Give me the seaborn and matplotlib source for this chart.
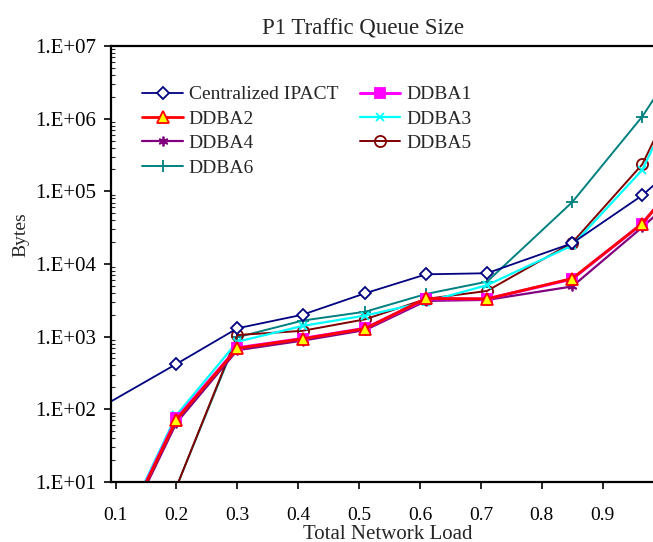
import numpy as np
import pandas as pd
import matplotlib
matplotlib.use('Agg')
import matplotlib.pyplot as plt
import seaborn as sns
from matplotlib.ticker import FuncFormatter, LogLocator, FixedLocator

# carga da rede (eixo x)
carga = [0.1, 0.2, 0.3, 0.407, 0.51, 0.61, 0.71, 0.85, 0.965, 1.0]
carga_ipact = [0.05, 0.2, 0.3, 0.407, 0.51, 0.61, 0.71, 0.85, 0.965, 1.0]

# tamanho da fila (bytes) por algoritmo
ipact = [80, 420, 1300, 2000, 3950, 7200, 7450, 19300, 88000, 160000]
ddba1 = [1.3, 75, 700, 940, 1300, 3300, 3300, 6200, 36000, 80000]
ddba2 = [1.3, 72, 690, 930, 1290, 3350, 3300, 6300, 36000, 81000]
ddba3 = [1.4, 83, 850, 1400, 1950, 3000, 5100, 18000, 197000, 800000]
ddba4 = [1.2, 65, 650, 880, 1230, 3100, 3200, 4900, 32000, 59000]
ddba5 = [1.0, 8.5, 1050, 1200, 1730, 3300, 4250, 19600, 235000, 950000]
ddba6 = [1.0, 8.5, 980, 1660, 2200, 3860, 5700, 71000, 1070000, 3000000]

series = [
    ('Centralized IPACT', carga_ipact, ipact),
    ('DDBA2', carga, ddba2),
    ('DDBA4', carga, ddba4),
    ('DDBA6', carga, ddba6),
    ('DDBA1', carga, ddba1),
    ('DDBA3', carga, ddba3),
    ('DDBA5', carga, ddba5),
]

estilos = {
    'Centralized IPACT': dict(color='#000080', marker='D', mfc='white', mec='#000080', ms=6, lw=1.3),
    'DDBA1': dict(color='#FF00FF', marker='s', mfc='#FF00FF', mec='#FF00FF', ms=7, lw=2.2),
    'DDBA2': dict(color='#FF0000', marker='^', mfc='#FFFF00', mec='#FF0000', ms=8, lw=2.0),
    'DDBA3': dict(color='#00FFFF', marker='x', mfc='#00FFFF', mec='#00FFFF', ms=6, lw=1.6),
    'DDBA4': dict(color='#800080', marker=(6, 2, 0), mfc='#800080', mec='#800080', ms=7, lw=1.6),
    'DDBA5': dict(color='#800000', marker='o', mfc='none', mec='#800000', ms=8, lw=1.4),
    'DDBA6': dict(color='#008080', marker='+', mfc='#008080', mec='#008080', ms=8, lw=1.4),
}

sns.set_style('white')
plt.rcParams['font.family'] = ['Liberation Serif', 'DejaVu Serif']

fig = plt.figure(figsize=(6.53, 5.42), dpi=100)
ax = fig.add_axes([0.170, 0.111, 0.835, 0.804])

ordem_desenho = ['DDBA6', 'DDBA5', 'DDBA3', 'Centralized IPACT', 'DDBA4', 'DDBA1', 'DDBA2']
dados = {nome: (x, y) for nome, x, y in series}
for nome in ordem_desenho:
    x, y = dados[nome]
    df = pd.DataFrame({'carga': x, 'bytes': y})
    st = estilos[nome]
    sns.lineplot(data=df, x='carga', y='bytes', ax=ax, color=st['color'],
                 linewidth=st['lw'], marker=st['marker'], markersize=st['ms'],
                 markerfacecolor=st['mfc'], markeredgecolor=st['mec'],
                 markeredgewidth=1.3, label=nome, legend=False)

ax.set_yscale('log')
ax.set_ylim(10, 1e7)
ax.set_xlim(0.0925, 0.988)
ax.set_xticks([0.1, 0.2, 0.3, 0.4, 0.5, 0.6, 0.7, 0.8, 0.9])
ax.set_xticklabels(['0.1', '0.2', '0.3', '0.4', '0.5', '0.6', '0.7', '0.8', '0.9'])
ax.yaxis.set_major_locator(FixedLocator([1e1, 1e2, 1e3, 1e4, 1e5, 1e6, 1e7]))
ax.yaxis.set_minor_locator(LogLocator(base=10, subs=np.arange(2, 10), numticks=10))
ax.yaxis.set_major_formatter(FuncFormatter(lambda v, p: '1.E+%02d' % int(round(np.log10(v)))))

ax.tick_params(axis='both', which='major', direction='out', length=5, width=1.2,
               color='black', labelcolor='black', left=True, bottom=True)
ax.tick_params(axis='x', which='major', labelsize=14, pad=13)
ax.tick_params(axis='y', which='major', labelsize=15, pad=6)
ax.tick_params(axis='y', which='minor', direction='in', length=3, width=0.8, left=True)

for lado in ['left', 'bottom', 'top']:
    ax.spines[lado].set_color('black')
    ax.spines[lado].set_linewidth(1.6)
ax.spines['right'].set_visible(False)

ax.set_title('P1 Traffic Queue Size', fontsize=16.5, x=0.463, pad=8)
ax.set_xlabel('Total Network Load', fontsize=15)
ax.xaxis.set_label_coords(0.508, -0.098)
ax.set_ylabel('Bytes', fontsize=14)
ax.yaxis.set_label_coords(-0.15, 0.567)

handles, labels = ax.get_legend_handles_labels()
mapa = dict(zip(labels, handles))
nomes_leg = [s[0] for s in series]
ax.legend([mapa[n] for n in nomes_leg], nomes_leg, loc='upper left', ncol=2,
          bbox_to_anchor=(0.057, 0.909), frameon=False, fontsize=14,
          handlelength=2.1, handletextpad=0.3, columnspacing=1.1,
          labelspacing=0.35, borderaxespad=0.0, borderpad=0.0)

plt.savefig('out.png', dpi=100)
